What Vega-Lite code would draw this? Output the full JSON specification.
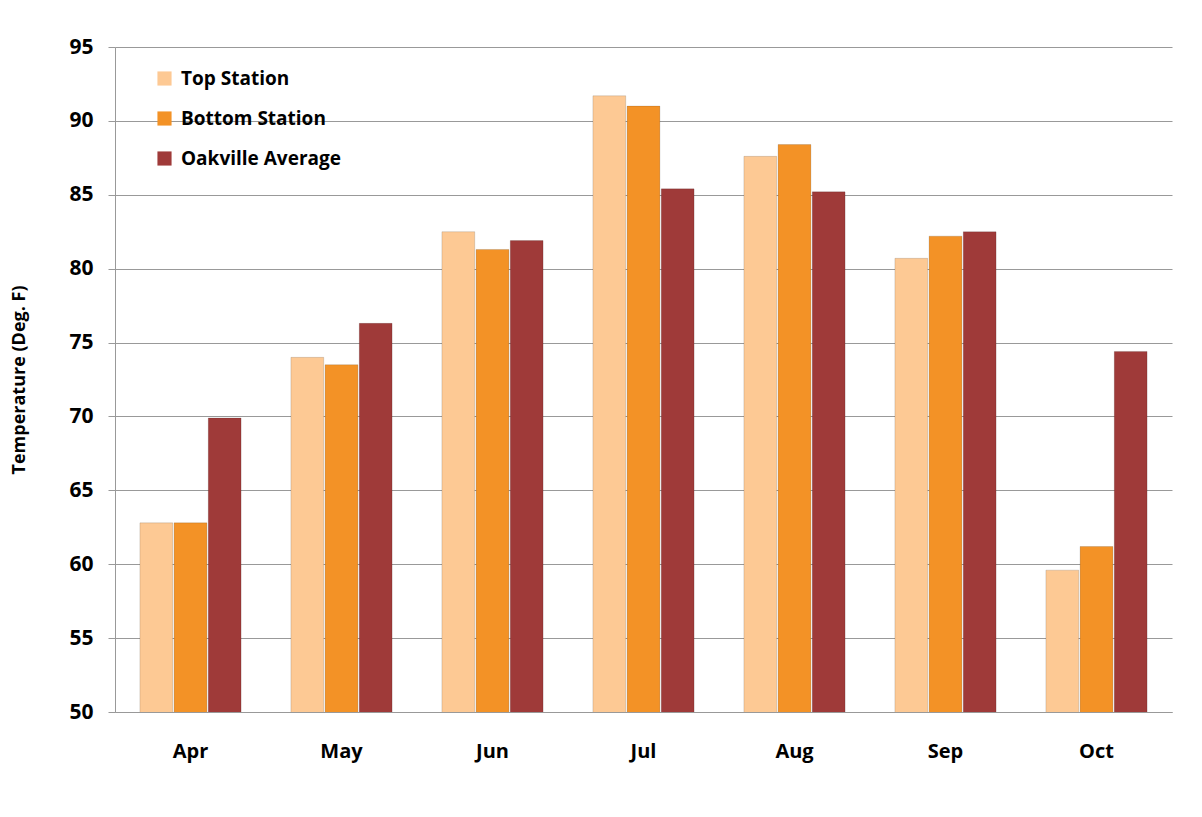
{
  "$schema": "https://vega.github.io/schema/vega-lite/v6.json",
  "width": 1057,
  "height": 665,
  "autosize": {"type": "none"},
  "padding": {"left": 115, "top": 47, "right": 30, "bottom": 105},
  "background": "white",
  "data": {
    "values": [
      {"month": "Apr", "series": "Top Station", "temp": 62.8},
      {"month": "Apr", "series": "Bottom Station", "temp": 62.8},
      {"month": "Apr", "series": "Oakville Average", "temp": 69.9},
      {"month": "May", "series": "Top Station", "temp": 74.0},
      {"month": "May", "series": "Bottom Station", "temp": 73.5},
      {"month": "May", "series": "Oakville Average", "temp": 76.3},
      {"month": "Jun", "series": "Top Station", "temp": 82.5},
      {"month": "Jun", "series": "Bottom Station", "temp": 81.3},
      {"month": "Jun", "series": "Oakville Average", "temp": 81.9},
      {"month": "Jul", "series": "Top Station", "temp": 91.7},
      {"month": "Jul", "series": "Bottom Station", "temp": 91.0},
      {"month": "Jul", "series": "Oakville Average", "temp": 85.4},
      {"month": "Aug", "series": "Top Station", "temp": 87.6},
      {"month": "Aug", "series": "Bottom Station", "temp": 88.4},
      {"month": "Aug", "series": "Oakville Average", "temp": 85.2},
      {"month": "Sep", "series": "Top Station", "temp": 80.7},
      {"month": "Sep", "series": "Bottom Station", "temp": 82.2},
      {"month": "Sep", "series": "Oakville Average", "temp": 82.5},
      {"month": "Oct", "series": "Top Station", "temp": 59.6},
      {"month": "Oct", "series": "Bottom Station", "temp": 61.2},
      {"month": "Oct", "series": "Oakville Average", "temp": 74.4}
    ]
  },
  "mark": {"type": "bar", "clip": true, "stroke": "#00000022", "strokeWidth": 1},
  "encoding": {
    "x": {
      "field": "month",
      "type": "nominal",
      "sort": ["Apr", "May", "Jun", "Jul", "Aug", "Sep", "Oct"],
      "scale": {"paddingInner": 0.33, "paddingOuter": 0.165},
      "axis": {
        "title": null,
        "labelAngle": 0,
        "labelFont": "Open Sans",
        "labelFontWeight": "bold",
        "labelFontSize": 20,
        "labelColor": "#000000",
        "labelPadding": 29,
        "ticks": false,
        "domainColor": "#999999"
      }
    },
    "xOffset": {
      "field": "series",
      "type": "nominal",
      "sort": ["Top Station", "Bottom Station", "Oakville Average"],
      "scale": {"paddingInner": 0.04, "paddingOuter": 0}
    },
    "y": {
      "field": "temp",
      "type": "quantitative",
      "scale": {"domain": [50, 95], "zero": false, "nice": false},
      "axis": {
        "title": "Temperature (Deg. F)",
        "titleFont": "Open Sans",
        "titleFontWeight": "bold",
        "titleFontSize": 18,
        "titleColor": "#000000",
        "titlePadding": 40,
        "values": [50, 55, 60, 65, 70, 75, 80, 85, 90, 95],
        "labelFont": "Open Sans",
        "labelFontWeight": "bold",
        "labelFontSize": 21,
        "labelColor": "#000000",
        "labelPadding": 15,
        "tickSize": 7,
        "tickColor": "#999999",
        "domainColor": "#999999",
        "gridColor": "#999999",
        "gridWidth": 1
      }
    },
    "color": {
      "field": "series",
      "type": "nominal",
      "sort": ["Top Station", "Bottom Station", "Oakville Average"],
      "scale": {
        "domain": ["Top Station", "Bottom Station", "Oakville Average"],
        "range": ["#FDC994", "#F39226", "#9F3A39"]
      },
      "legend": {
        "title": null,
        "orient": "none",
        "legendX": 40,
        "legendY": 22,
        "symbolType": "square",
        "symbolSize": 200,
        "symbolStrokeWidth": 0,
        "labelFont": "Open Sans",
        "labelFontWeight": "bold",
        "labelFontSize": 19,
        "labelColor": "#000000",
        "labelOffset": 7,
        "rowPadding": 20
      }
    }
  },
  "config": {
    "view": {"stroke": null}
  }
}
